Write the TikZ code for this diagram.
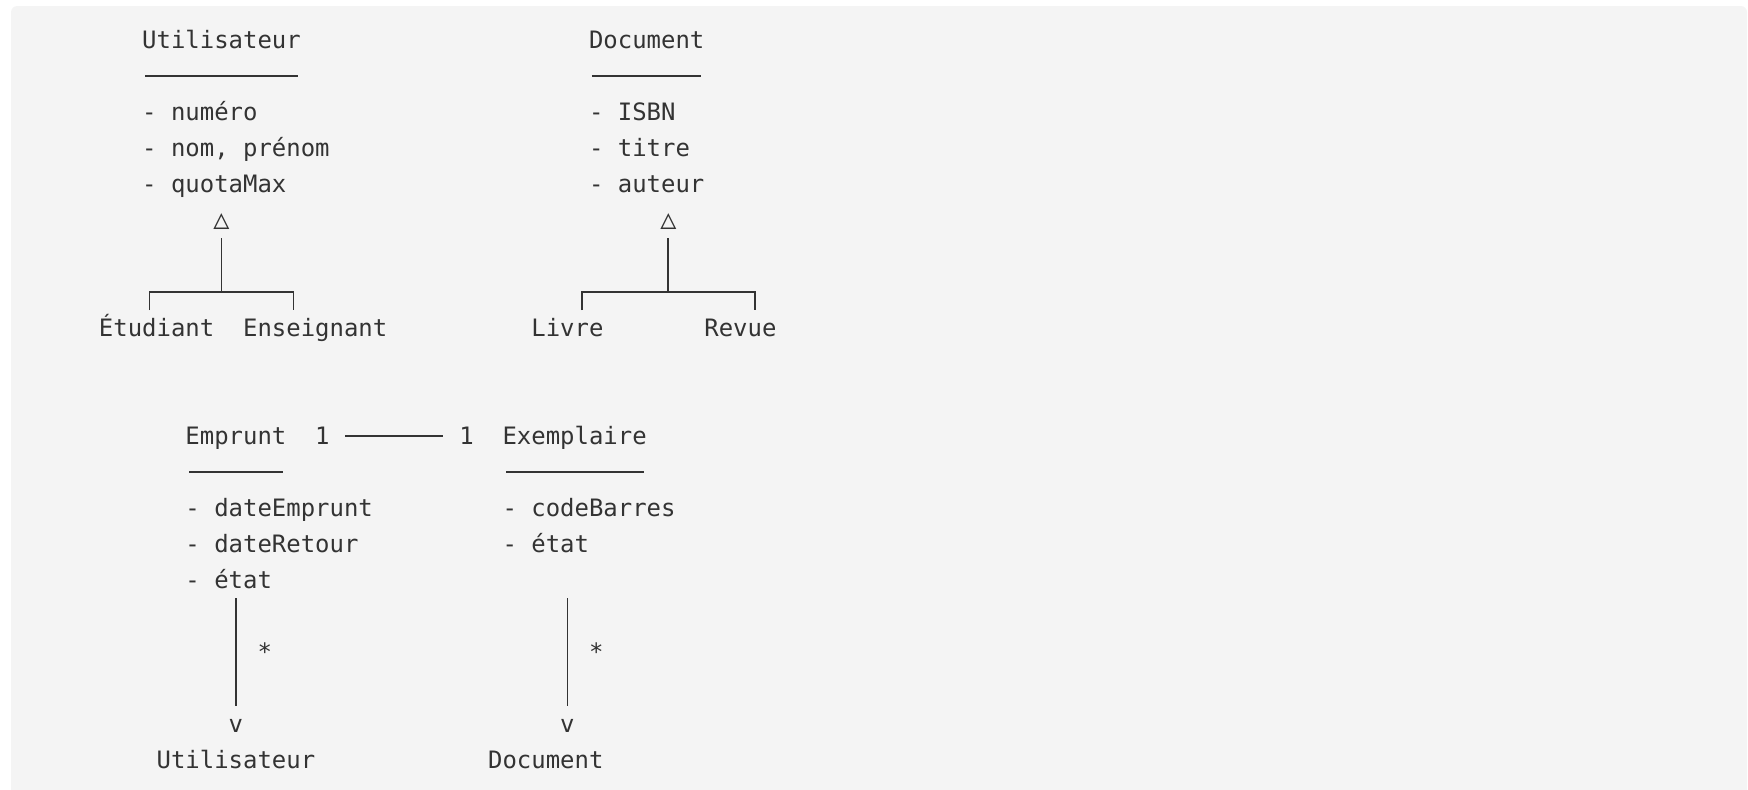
\documentclass[tikz,border=0pt]{standalone}
\usepackage{fontspec}
\setmonofont{DejaVu Sans Mono}
\definecolor{bgc}{HTML}{F4F4F4}
\definecolor{ink}{HTML}{333333}
\begin{document}
\begin{tikzpicture}[x=12.93pt,y=-32.3pt,
  txt/.style={anchor=base west,inner sep=0pt,outer sep=0pt,yshift=-7.3pt,text=ink,
    font=\ttfamily\fontsize{21.48}{25}\selectfont},
  tri/.style={anchor=base,inner sep=0pt,outer sep=0pt,yshift=-7.3pt,text=ink,
    font=\ttfamily\fontsize{24}{28}\selectfont},
  ln/.style={draw=ink,line width=1.6pt}]
\useasboundingbox (-6.864,-1.1146) rectangle (114.40,20.805);
\fill[bgc,rounded corners=5.4pt] (-6.098,-0.947) rectangle (114.33,21.6);

% --- Utilisateur class
\node[txt] (uhead) at (3,0) {Utilisateur};
\node[txt] (ua1) at (3,2) {- numéro};
\node[txt] (ua2) at (3,3) {- nom, prénom};
\node[txt] (ua3) at (3,4) {- quotaMax};
\node[tri] (utri) at (8.5,5) {△};
\node[txt] (etu) at (0,8) {Étudiant};
\node[txt] (ens) at (10,8) {Enseignant};

% --- Document class
\node[txt] (dhead) at (34,0) {Document};
\node[txt] (da1) at (34,2) {- ISBN};
\node[txt] (da2) at (34,3) {- titre};
\node[txt] (da3) at (34,4) {- auteur};
\node[tri] (dtri) at (39.5,5) {△};
\node[txt] (livre) at (30,8) {Livre};
\node[txt] (revue) at (42,8) {Revue};

% --- Emprunt / Exemplaire
\node[txt] (emp) at (6,11) {Emprunt};
\node[txt] (m1) at (15,11) {1};
\node[txt] (m2) at (25,11) {1};
\node[txt] (exe) at (28,11) {Exemplaire};
\node[txt] (ea1) at (6,13) {- dateEmprunt};
\node[txt] (ea2) at (6,14) {- dateRetour};
\node[txt] (ea3) at (6,15) {- état};
\node[txt] (xa1) at (28,13) {- codeBarres};
\node[txt] (xa2) at (28,14) {- état};
\node[txt] (st1) at (11,17) {*};
\node[txt] (st2) at (34,17) {*};
\node[txt] (v1) at (9,19) {v};
\node[txt] (v2) at (32,19) {v};
\node[txt] (uref) at (4,20) {Utilisateur};
\node[txt] (dref) at (27,20) {Document};

% --- underlines
\coordinate (ul1a) at (3.2,1);  \coordinate (ul1b) at (13.8,1);
\coordinate (ul2a) at (34.2,1); \coordinate (ul2b) at (41.8,1);
\coordinate (ul3a) at (6.25,12); \coordinate (ul3b) at (12.8,12);
\coordinate (ul4a) at (28.25,12); \coordinate (ul4b) at (37.8,12);
\draw[ln] (ul1a) -- (ul1b);
\draw[ln] (ul2a) -- (ul2b);
\draw[ln] (ul3a) -- (ul3b);
\draw[ln] (ul4a) -- (ul4b);

% --- inheritance trees
\coordinate (t1top) at (8.5,5.5);  \coordinate (t1j) at (8.5,7);
\coordinate (t1l) at (3.5,7.5);    \coordinate (t1r) at (13.5,7.5);
\draw[ln] (t1top) -- (t1j);
\draw[ln] (t1l) |- (t1j) -| (t1r);
\coordinate (t2top) at (39.5,5.5); \coordinate (t2j) at (39.5,7);
\coordinate (t2l) at (33.5,7.5);   \coordinate (t2r) at (45.5,7.5);
\draw[ln] (t2top) -- (t2j);
\draw[ln] (t2l) |- (t2j) -| (t2r);

% --- association 1 -- 1
\coordinate (asa) at (17.1,11); \coordinate (asb) at (23.9,11);
\draw[ln] (asa) -- (asb);

% --- vertical links
\coordinate (va1) at (9.5,15.5);  \coordinate (vb1) at (9.5,18.5);
\coordinate (va2) at (32.5,15.5); \coordinate (vb2) at (32.5,18.5);
\draw[ln] (va1) -- (vb1);
\draw[ln] (va2) -- (vb2);
\end{tikzpicture}
\end{document}
